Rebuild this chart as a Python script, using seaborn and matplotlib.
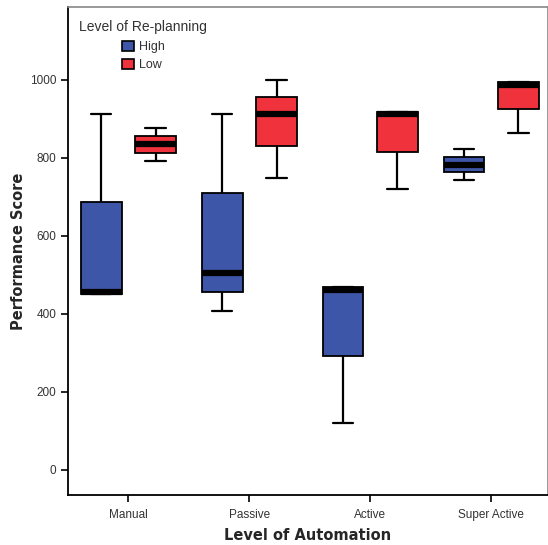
import numpy as np
import pandas as pd
import matplotlib
matplotlib.use("Agg")
import matplotlib.pyplot as plt
import seaborn as sns

# data: five values per group -> [min, q1, median, q3, max]
categories = ["Manual", "Passive", "Active", "Super Active"]
high_scores = [
    [450, 450, 457, 687, 913],
    [407, 456, 505, 711, 913],
    [121, 291, 461, 468, 468],
    [744, 763, 783, 803, 823],
]
low_scores = [
    [793, 814, 835, 856, 876],
    [748, 831, 913, 956, 999],
    [721, 815, 912, 919, 919],
    [863, 926, 988, 996, 996],
]
replan_levels = ["High", "Low"]
y_ticks = [0, 200, 400, 600, 800, 1000]

rows = []
for level, groups in zip(replan_levels, [high_scores, low_scores]):
    for cat, vals in zip(categories, groups):
        for v in vals:
            rows.append({"automation": cat, "replan": level, "score": v})
df = pd.DataFrame(rows)

sns.set_style("white")
plt.rcParams["font.family"] = ["Liberation Sans", "DejaVu Sans"]

fig = plt.figure(figsize=(5.48, 5.45), dpi=100)
ax = fig.add_axes([0.124, 0.092, 0.876, 0.895])

sns.boxplot(
    data=df, x="automation", y="score", hue="replan",
    order=categories, hue_order=replan_levels,
    palette={"High": "#3d56a8", "Low": "#f0323c"},
    width=0.9, gap=0.25, whis=(0, 100), saturation=1,
    linecolor="black", linewidth=1.3,
    medianprops={"color": "black", "linewidth": 4.5},
    whiskerprops={"linewidth": 1.6},
    capprops={"linewidth": 1.6},
    ax=ax,
)

ax.set_ylim(-64, 1187)
ax.set_xlim(-0.5, 3.47)
ax.set_yticks(y_ticks)
ax.tick_params(axis="both", direction="out", length=5, width=1.2,
               color="black", labelsize=8.5, labelcolor="#333333",
               left=True, bottom=True)
ax.tick_params(axis="x", pad=5)

for side in ["left", "bottom"]:
    ax.spines[side].set_color("black")
    ax.spines[side].set_linewidth(1.3)
for side in ["top", "right"]:
    ax.spines[side].set_color("#888888")
    ax.spines[side].set_linewidth(1.2)

ax.set_xlabel("Level of Automation", fontsize=10.5, fontweight="bold",
              family="DejaVu Sans", labelpad=5)
ax.set_ylabel("Performance Score", fontsize=10.5, fontweight="bold",
              family="DejaVu Sans", labelpad=2.5)

leg = ax.legend(title="Level of Re-planning", loc="upper left",
                bbox_to_anchor=(0.003, 0.994), frameon=False,
                fontsize=9, title_fontsize=10,
                handlelength=0.9, handleheight=0.9, handletextpad=0.4,
                labelspacing=0.42, borderaxespad=0.4)
leg._legend_box.sep = 5
for t in leg.get_texts():
    t.set_color("#333333")
leg.get_title().set_color("#333333")
for h in leg.legend_handles:
    h.set_edgecolor("black")
    h.set_linewidth(1.2)

fig.savefig("out.png", dpi=100)
